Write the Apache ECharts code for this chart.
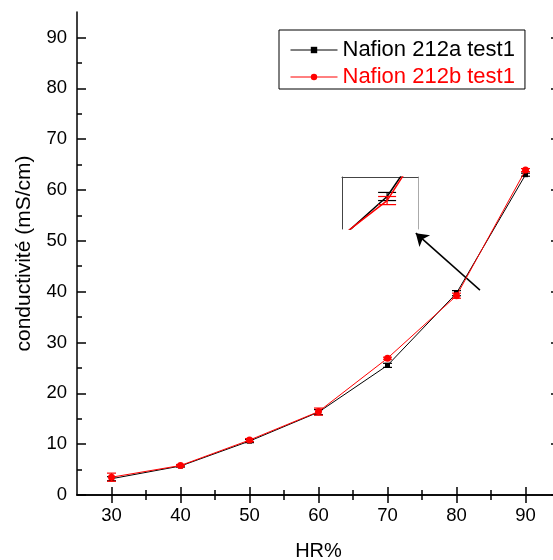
<!DOCTYPE html>
<html><head><meta charset="utf-8">
<script src="https://cdn.jsdelivr.net/npm/echarts@6/dist/echarts.min.js"></script>
<style>html,body{margin:0;padding:0;background:#fff}#c{width:553px;height:560px}</style>
</head><body><div id="c"></div>
<script>
const hr = [30, 40, 50, 60, 70, 80, 90];
const seriesA = [3.2, 5.7, 10.6, 16.3, 25.5, 39.7, 63.0];
const errA = [0.4, 0.2, 0.3, 0.5, 0.4, 0.5, 0.3];
const seriesB = [3.5, 5.8, 10.8, 16.4, 26.9, 39.2, 63.9];
const errB = [0.8, 0.2, 0.3, 0.7, 0.2, 0.5, 0.3];
const nameA = 'Nafion 212a test1';
const nameB = 'Nafion 212b test1';
const xMajor = [30, 40, 50, 60, 70, 80, 90];
const xMinor = [35, 45, 55, 65, 75, 85];
const yMajor = [0, 10, 20, 30, 40, 50, 60, 70, 80, 90];
const yMinor = [5, 15, 25, 35, 45, 55, 65, 75, 85];
const arrowFrom = [83.4, 40.3];
const arrowTo = [74.1, 51.5];

const FONT = 'Arial, "Liberation Sans", sans-serif';
const pts = (ys) => hr.map((x, i) => [x, ys[i]]);
const errPts = (ys, es) => hr.map((x, i) => [x, ys[i], es[i]]);

function errRender(color, cap) {
  return function (params, api) {
    const x = api.value(0), y = api.value(1), e = api.value(2);
    const lo = api.coord([x, y - e]);
    const hi = api.coord([x, y + e]);
    const st = { stroke: color, lineWidth: 1.2 };
    return {
      type: 'group',
      children: [
        { type: 'line', shape: { x1: lo[0], y1: lo[1], x2: hi[0], y2: hi[1] }, style: st },
        { type: 'line', shape: { x1: lo[0] - cap, y1: lo[1], x2: lo[0] + cap, y2: lo[1] }, style: st },
        { type: 'line', shape: { x1: hi[0] - cap, y1: hi[1], x2: hi[0] + cap, y2: hi[1] }, style: st }
      ]
    };
  };
}

const axLine = { show: true, lineStyle: { color: '#000', width: 1.5 } };
function xAx(pos, ticks, len, labels, extra) {
  return Object.assign({
    type: 'value', gridIndex: 0, position: pos, min: 25, max: 95,
    axisLine: axLine,
    axisTick: { show: true, inside: true, length: len, customValues: ticks, lineStyle: { color: '#000', width: 1.5 } },
    axisLabel: labels ? { show: true, customValues: ticks, fontSize: 18.5, color: '#000', fontFamily: FONT, margin: 11 } : { show: false },
    splitLine: { show: false }
  }, extra || {});
}
function yAx(pos, ticks, len, labels, extra) {
  return Object.assign({
    type: 'value', gridIndex: 0, position: pos, min: 0, max: 95,
    axisLine: axLine,
    axisTick: { show: true, inside: true, length: len, customValues: ticks, lineStyle: { color: '#000', width: 1.5 } },
    axisLabel: labels ? { show: true, customValues: ticks, fontSize: 18.5, color: '#000', fontFamily: FONT, margin: 10 } : { show: false },
    splitLine: { show: false }
  }, extra || {});
}

const option = {
  animation: false,
  backgroundColor: '#fff',
  grid: [
    { left: 77, top: 12, width: 483, height: 483, outerBoundsMode: 'none', containLabel: false },
    { left: 342, top: 177, width: 76, height: 52, outerBoundsMode: 'none', containLabel: false }
  ],
  legend: {
    left: 279, top: 30, orient: 'vertical',
    borderColor: '#000', borderWidth: 1, padding: [9, 10, 1, 11],
    itemWidth: 47, itemHeight: 8, itemGap: 5,
    lineStyle: { width: 1 },
    textStyle: { fontSize: 22, lineHeight: 22, fontFamily: FONT },
    data: [
      { name: nameA, textStyle: { color: '#000' } },
      { name: nameB, textStyle: { color: '#ff0000' } }
    ]
  },
  xAxis: [
    xAx('bottom', xMajor, 8, true, { name: 'HR%', nameLocation: 'middle', nameGap: 46, nameTextStyle: { fontSize: 20, color: '#000', fontFamily: FONT } }),
    xAx('bottom', xMinor, 5, false, { axisLine: { show: false } }),
    xAx('top', xMajor, 8, false),
    xAx('top', xMinor, 5, false, { axisLine: { show: false } }),
    {
      type: 'value', gridIndex: 1, position: 'top', min: 76.5, max: 82.4,
      axisLine: { show: true, lineStyle: { color: '#444', width: 1 } },
      axisTick: { show: false }, axisLabel: { show: false }, splitLine: { show: false }
    }
  ],
  yAxis: [
    yAx('left', yMajor, 9, true, { name: 'conductivité (mS/cm)', nameLocation: 'middle', nameGap: 42, nameTextStyle: { fontSize: 21, color: '#000', fontFamily: FONT } }),
    yAx('left', yMinor, 5, false, { axisLine: { show: false } }),
    yAx('right', yMajor, 9, false),
    yAx('right', yMinor, 5, false, { axisLine: { show: false } }),
    {
      type: 'value', gridIndex: 1, position: 'left', min: 35.7, max: 42.1,
      axisLine: { show: true, lineStyle: { color: '#444', width: 1 } },
      axisTick: { show: false }, axisLabel: { show: false }, splitLine: { show: false }
    },
    {
      type: 'value', gridIndex: 1, position: 'right', min: 35.7, max: 42.1,
      axisLine: { show: true, lineStyle: { color: '#aaa', width: 1 } },
      axisTick: { show: false }, axisLabel: { show: false }, splitLine: { show: false }
    }
  ],
  series: [
    {
      type: 'custom', name: nameA + ' err', xAxisIndex: 0, yAxisIndex: 0,
      renderItem: errRender('#000', 4.5), data: errPts(seriesA, errA), z: 3
    },
    {
      type: 'line', name: nameA, xAxisIndex: 0, yAxisIndex: 0, data: pts(seriesA),
      symbol: 'rect', symbolSize: 5, itemStyle: { color: '#000' },
      lineStyle: { color: '#000', width: 1 }, z: 4
    },
    {
      type: 'custom', name: nameB + ' err', xAxisIndex: 0, yAxisIndex: 0,
      renderItem: errRender('#ff0000', 4.5), data: errPts(seriesB, errB), z: 5
    },
    {
      type: 'line', name: nameB, xAxisIndex: 0, yAxisIndex: 0, data: pts(seriesB),
      symbol: 'circle', symbolSize: 7, itemStyle: { color: '#ff0000' },
      lineStyle: { color: '#ff0000', width: 1 }, z: 6
    },
    {
      type: 'line', name: 'arrow', xAxisIndex: 0, yAxisIndex: 0, data: [],
      symbol: 'none', z: 8,
      markLine: {
        silent: true, symbol: ['none', 'arrow'], symbolSize: 12,
        label: { show: false },
        lineStyle: { color: '#000', width: 1.5, type: 'solid' },
        itemStyle: { color: '#000' },
        data: [[{ coord: arrowFrom }, { coord: arrowTo }]]
      }
    },
    {
      type: 'line', xAxisIndex: 4, yAxisIndex: 4, data: pts(seriesA), clip: true,
      symbol: 'none', lineStyle: { color: '#000', width: 1.5 }, z: 4
    },
    {
      type: 'custom', xAxisIndex: 4, yAxisIndex: 4, clip: true,
      renderItem: errRender('#000', 9), data: errPts(seriesA, errA), z: 5
    },
    {
      type: 'line', xAxisIndex: 4, yAxisIndex: 4, data: pts(seriesB), clip: true,
      symbol: 'none', lineStyle: { color: '#ff0000', width: 1.5 }, z: 6
    },
    {
      type: 'custom', xAxisIndex: 4, yAxisIndex: 4, clip: true,
      renderItem: errRender('#ff0000', 9), data: errPts(seriesB, errB), z: 7
    }
  ]
};
const chart = echarts.init(document.getElementById('c'), null, { renderer: 'canvas' });
chart.setOption(option);
</script></body></html>
